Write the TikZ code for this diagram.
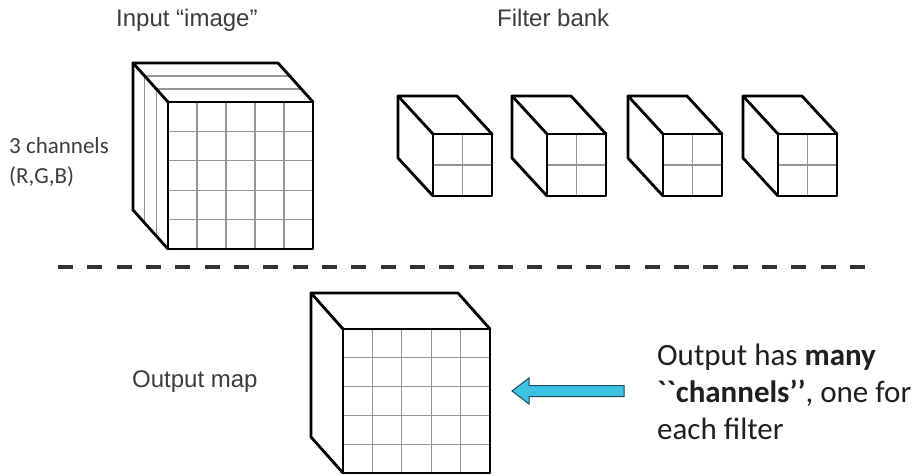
\documentclass[tikz,border=0pt]{standalone}
\usepackage{fontspec}
\setmainfont{Liberation Sans}
\newfontfamily\calib[Ligatures=TeXOff]{Carlito}
\definecolor{labelgray}{HTML}{3C3C3C}
\definecolor{gridgray}{HTML}{959595}
\definecolor{arrowfill}{HTML}{3CC3E3}
\definecolor{arrowline}{HTML}{1E4A58}
\tikzset{
  edge/.style={line width=2.8pt, black, line join=round, line cap=round},
  gridline/.style={line width=1.3pt, gridgray},
  arial/.style={font=\fontsize{24}{28}\selectfont, text=labelgray, inner sep=0pt, anchor=base west},
  calsmall/.style={font=\calib\fontsize{23}{27}\selectfont, text=labelgray, inner sep=0pt, anchor=base west},
  calbig/.style={font=\calib\fontsize{31}{37}\selectfont, text=black!88, inner sep=0pt, anchor=base west},
  divider/.style={line width=3.4pt, black!80, dash pattern=on 15pt off 14.33pt},
}
% #1 x of front top-left, #2 y of front top-left, #3 width, #4 height, #5 depth dx, #6 depth dy, #7 grid cells
\newcommand{\mycube}[7]{%
  \foreach \i in {1,...,\numexpr#7-1\relax}{%
    \draw[gridline] ({#1+\i*#3/#7},#2) -- ++(0,#4);
    \draw[gridline] (#1,{#2+\i*#4/#7}) -- ++(#3,0);
  }%
  \draw[edge] (#1,#2) rectangle ++(#3,#4);
  \draw[edge] (#1,#2) -- ++(-#5,-#6) -- ++(#3,0) -- (#1+#3,#2);
  \draw[edge] (#1-#5,#2-#6) -- ++(0,#4) -- (#1,#2+#4);
}
\begin{document}
\begin{tikzpicture}[x=1pt,y=-1pt]
\useasboundingbox (0,0) rectangle (919,476);

% labels
\node[arial] (inlabel) at (116,27) {Input “image”};
\node[arial] (fblabel) at (497,27) {Filter bank};
\node[calsmall] (chA) at (9,154) {3 channels};
\node[calsmall] (chB) at (9,183) {(R,G,B)};
\node[arial] (outlabel) at (132,387) {Output map};

% input cube with 3 channel slices
\foreach \t in {1,2}{%
  \draw[gridline] ({133+\t*35/3},{63+\t*39/3}) -- ++(147,0);
  \draw[gridline] ({133+\t*35/3},{63+\t*39/3}) -- ++(0,146);
}
\mycube{168}{102}{145}{147}{35}{39}{5}

% filter bank
\foreach \fx in {433,547,663,778}{%
  \mycube{\fx}{134}{59}{62}{35}{38}{2}
}

% divider
\coordinate (dl) at (58,267);
\coordinate (dr) at (865,267);
\draw[divider] (dl) -- (dr);

% output cube
\mycube{343}{329}{147}{144}{32}{36}{5}

% arrow
\draw[fill=arrowfill, draw=arrowline, line width=1pt, line join=miter]
  (512,391) -- (529,378) -- (529,385.5) -- (624,385.5) -- (624,396.5)
  -- (529,396.5) -- (529,404) -- cycle;

% output text
\node[calbig] (t1) at (657,365) {Output has \textbf{many}};
\node[calbig] (t2) at (657,402) {\textbf{``channels’’}, one for};
\node[calbig] (t3) at (657,439) {each filter};
\end{tikzpicture}
\end{document}
